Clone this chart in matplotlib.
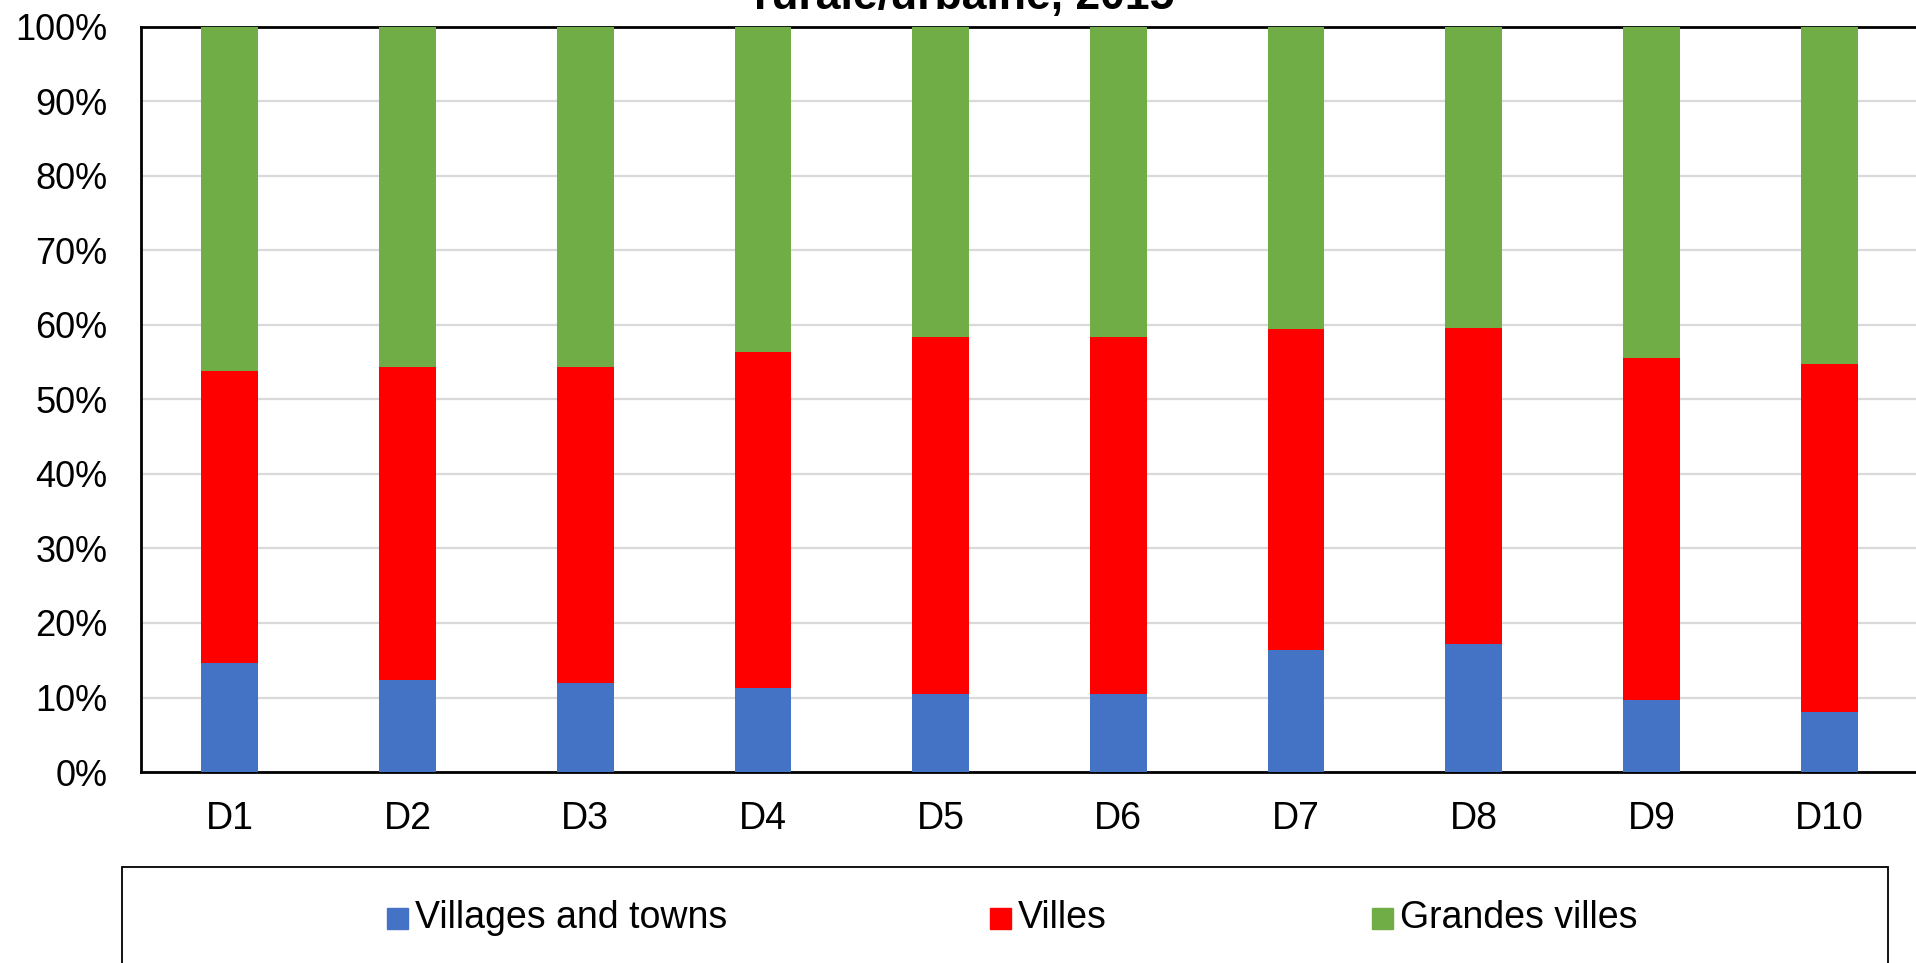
import numpy as np
import matplotlib.pyplot as plt
from matplotlib.patches import Rectangle

# deciles and shares (%) per zone type
categories = ['D1', 'D2', 'D3', 'D4', 'D5', 'D6', 'D7', 'D8', 'D9', 'D10']
villages = [14.6, 12.3, 11.9, 11.3, 10.5, 10.5, 16.4, 17.2, 9.7, 8.0]
villes = [39.2, 42.0, 42.4, 45.0, 47.8, 47.8, 43.0, 42.4, 45.9, 46.8]
grandes = [46.2, 45.7, 45.7, 43.7, 41.7, 41.7, 40.6, 40.4, 44.4, 45.2]
series_names = ['Villages and towns', 'Villes', 'Grandes villes']
colors = ['#4472C4', '#FF0000', '#70AD47']

plt.rcParams['font.family'] = ['Liberation Sans', 'DejaVu Sans']

fig = plt.figure(figsize=(19.16, 9.63), dpi=100)
ax = fig.add_axes([0.0736, 0.1983, 0.9274, 0.774])

x = np.arange(len(categories))
bottom = np.zeros(len(categories))
for vals, col in zip([villages, villes, grandes], colors):
    ax.bar(x, vals, width=0.32, bottom=bottom, color=col, zorder=3)
    bottom = bottom + np.array(vals)

ax.set_xlim(-0.5, len(categories) - 0.5)
ax.set_ylim(0, 100)
ax.set_yticks(np.arange(0, 101, 10))
ax.set_yticklabels([f'{v}%' for v in range(0, 101, 10)])
ax.set_xticks(x)
ax.set_xticklabels(categories)
ax.tick_params(axis='both', length=0)
ax.tick_params(axis='y', pad=24, labelsize=26)
ax.tick_params(axis='x', pad=21, labelsize=27)
ax.grid(axis='y', color='#D9D9D9', linewidth=1.6, zorder=0)
for s in ['left', 'bottom', 'top']:
    ax.spines[s].set_linewidth(2)
    ax.spines[s].set_color('black')
ax.spines['right'].set_visible(False)

# title, mostly cut off at the top of the picture
fig.text(0.503, 1 - 9 / 963, 'rurale/urbaine, 2015', ha='center', va='baseline',
         fontsize=32, fontweight='bold')

# legend box along the bottom
fig.patches.append(Rectangle((122 / 1916, -0.05), (1888 - 122) / 1916, 0.05 + 96 / 963,
                             transform=fig.transFigure, fill=False,
                             edgecolor='black', linewidth=1.3))
marker_x = [387, 990, 1372]
ymid = 1 - 918 / 963
for name, col, mx in zip(series_names, colors, marker_x):
    fig.patches.append(Rectangle((mx / 1916, ymid - 10.5 / 963), 21 / 1916, 21 / 963,
                                 transform=fig.transFigure, color=col))
    fig.text((mx + 28) / 1916, ymid, name, ha='left', va='center', fontsize=27)

fig.savefig('out.png', dpi=100)
